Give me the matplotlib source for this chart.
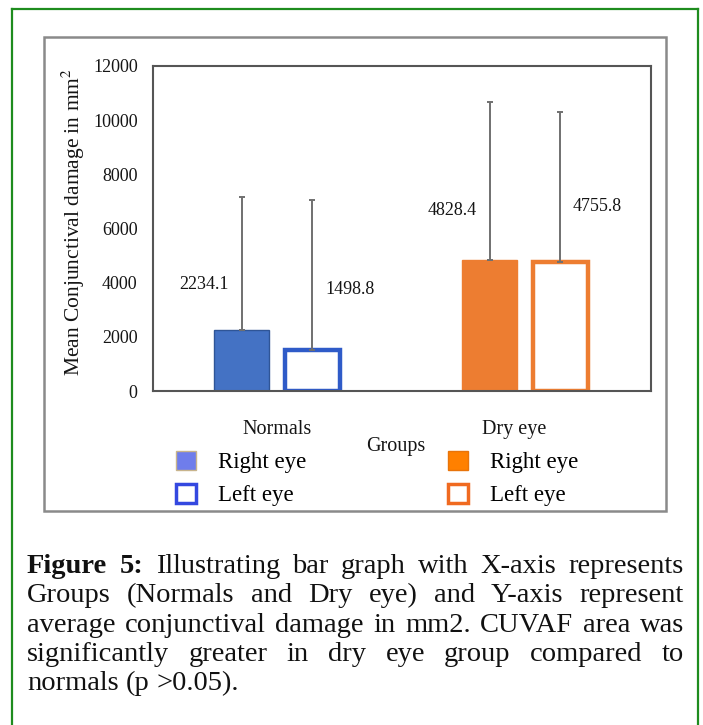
import matplotlib
matplotlib.use('Agg')
import numpy as np
from matplotlib import pyplot as plt
from matplotlib.patches import Patch, Rectangle
from matplotlib.lines import Line2D

plt.rcParams['font.family'] = ['Liberation Serif', 'DejaVu Serif']
plt.rcParams['mathtext.fontset'] = 'stix'

# data
groups = ['Normals', 'Dry eye']
right_eye = [2234.1, 4828.4]
left_eye = [1498.8, 4755.8]
right_sd = [4930, 5840]
left_sd = [5550, 5550]
value_y_right = [3950, 6680]
value_y_left = [3730, 6830]
tick_pos = [0, 0.955]
yticks = [0, 2000, 4000, 6000, 8000, 10000, 12000]
legend_labels = ['Right eye', 'Left eye', 'Right eye', 'Left eye']

caption_lines = [
    [('Figure', 'bold'), ('5:', 'bold'), ('Illustrating', 'normal'), ('bar', 'normal'),
     ('graph', 'normal'), ('with', 'normal'), ('X-axis', 'normal'), ('represents', 'normal')],
    [(w, 'normal') for w in 'Groups (Normals and Dry eye) and Y-axis represent'.split()],
    [(w, 'normal') for w in 'average conjunctival damage in mm2. CUVAF area was'.split()],
    [(w, 'normal') for w in 'significantly greater in dry eye group compared to'.split()],
    [(w, 'normal') for w in 'normals (p >0.05).'.split()],
]

W, H = 703, 725
BLUE = '#4472C4'
ORANGE = '#ED7D31'
TXT = '#151515'

fig = plt.figure(figsize=(W / 100, H / 100), dpi=100)
fig.patch.set_facecolor('white')

def fx(px):
    return px / W

def fy(py):
    return 1 - py / H

# green outer box (open at the bottom) and grey chart frame
green = '#1E8C1E'
for xs, ys in [([12, 12], [9, H + 5]), ([698, 698], [9, H + 5]), ([12, 698], [9, 9])]:
    fig.add_artist(Line2D([fx(x) for x in xs], [fy(y) for y in ys], color=green, lw=1.6))
fig.add_artist(Rectangle((fx(44), fy(511)), fx(666) - fx(44), fy(37) - fy(511),
                         transform=fig.transFigure, fill=False, edgecolor='#8a8a8a', lw=1.8))

ax = fig.add_axes([fx(153), fy(391), fx(651) - fx(153), fy(66) - fy(391)])
x = np.arange(len(groups))
off = 0.143
bw = 0.225

ax.bar(x - off, right_eye, bw, color=[BLUE, ORANGE], edgecolor=['#2F5597', ORANGE], lw=1)
ax.bar(x + off, left_eye, bw, color='white', edgecolor=['#2F5BC8', ORANGE], lw=3.2)
ax.errorbar(x - off, right_eye, yerr=[np.zeros(2), right_sd], fmt='none',
            ecolor='#707070', elinewidth=1.4, capsize=2.5, capthick=1.4)
ax.errorbar(x + off, left_eye, yerr=[np.zeros(2), left_sd], fmt='none',
            ecolor='#707070', elinewidth=1.4, capsize=2.5, capthick=1.4)

for i in range(len(groups)):
    ax.text(x[i] - off - 0.15, value_y_right[i], f'{right_eye[i]:.1f}',
            ha='center', va='center', fontsize=13, color=TXT)
    ax.text(x[i] + off + 0.15, value_y_left[i], f'{left_eye[i]:.1f}',
            ha='center', va='center', fontsize=13, color=TXT)

ax.set_xlim(-0.5, 1.508)
ax.set_ylim(0, 12000)
ax.set_yticks(yticks)
ax.set_yticklabels([str(t) for t in yticks], fontsize=13, color=TXT)
ax.set_xticks(tick_pos)
ax.set_xticklabels(groups, fontsize=14.5, color=TXT)
ax.tick_params(axis='y', length=0, pad=11)
ax.tick_params(axis='x', length=0, pad=21)
for s in ax.spines.values():
    s.set_color('#555555')
    s.set_linewidth(1.5)

fig.text(fx(73), fy(222), 'Mean Conjunctival damage in mm$^2$', rotation=90,
         ha='center', va='center', fontsize=15.5, color=TXT)
fig.text(fx(396), fy(446), 'Groups', ha='center', va='center', fontsize=14.5, color=TXT)

handles = [Patch(facecolor='#6F7DEB', edgecolor='#C8B48C', lw=1),
           Patch(facecolor='white', edgecolor='#3448E0', lw=2.5),
           Patch(facecolor='#FF8000', edgecolor='#E8740A', lw=1),
           Patch(facecolor='white', edgecolor='#F06A20', lw=2.5)]
fig.legend(handles, legend_labels, ncol=2, loc='upper left',
           bbox_to_anchor=(fx(176), fy(451)), bbox_transform=fig.transFigure,
           frameon=False, fontsize=16.5, borderpad=0, borderaxespad=0,
           handlelength=0.87, handleheight=0.87, handletextpad=0.96,
           columnspacing=6.2, labelspacing=0.48)

# justified caption
fig.canvas.draw()
renderer = fig.canvas.get_renderer()
cap_size = 20.5
x0, x1 = 27, 684
baselines = [573, 602, 632, 661, 690]

def word_width(word, weight):
    t = fig.text(0, 0, word, fontsize=cap_size, fontweight=weight)
    w = t.get_window_extent(renderer).width
    t.remove()
    return w

space_w = word_width('a b', 'normal') - word_width('ab', 'normal')
for n, line in enumerate(caption_lines):
    widths = [word_width(w, wt) for w, wt in line]
    last = n == len(caption_lines) - 1
    gap = space_w if last else (x1 - x0 - sum(widths)) / (len(line) - 1)
    cx = x0
    for (w, wt), wd in zip(line, widths):
        fig.text(fx(cx), fy(baselines[n]), w, fontsize=cap_size, fontweight=wt,
                 va='baseline', ha='left', color='#111111')
        cx += wd + gap

fig.savefig('out.png', dpi=100)
